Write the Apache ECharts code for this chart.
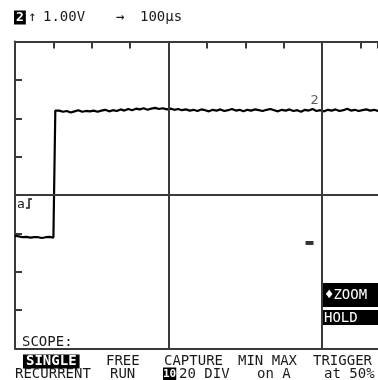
<!DOCTYPE html>
<html>
<head>
<meta charset="utf-8">
<script src="https://cdn.jsdelivr.net/npm/echarts@6/dist/echarts.min.js"></script>
<style>
  html, body { margin: 0; padding: 0; background: #fff; }
  #scope { width: 378px; height: 380px; }
</style>
</head>
<body>
<div id="scope"></div>
<script>
// screen: divisions of 1.00 V and 100 us; the right part of the 10th division is cut off
var sampleStep = 0.1;
var traceValues = [
  -1.06, -1.08, -1.10, -1.09, -1.11, -1.10, -1.10, -1.12, -1.10, -1.09, -1.11,
  2.20, 2.17, 2.19, 2.15, 2.18, 2.21, 2.17, 2.19, 2.18, 2.20,
  2.17, 2.20, 2.22, 2.18, 2.21, 2.19, 2.23, 2.20, 2.24, 2.21,
  2.25, 2.23, 2.26, 2.22, 2.25, 2.27, 2.24, 2.26, 2.23, 2.25,
  2.22, 2.24, 2.21, 2.23, 2.20, 2.22, 2.19, 2.23, 2.21, 2.18,
  2.22, 2.20, 2.23, 2.19, 2.21, 2.24, 2.20, 2.22, 2.18, 2.22,
  2.20, 2.23, 2.21, 2.19, 2.22, 2.24, 2.21, 2.18, 2.22, 2.20,
  2.23, 2.19, 2.21, 2.17, 2.22, 2.20, 2.24, 2.19, 2.21, 2.18,
  2.22, 2.20, 2.23, 2.19, 2.21, 2.25, 2.20, 2.22, 2.19, 2.21,
  2.23, 2.20, 2.22, 2.19, 2.24, 2.21, 2.20, 2.23, 2.21, 2.22
];
var cursorDivs = [4, 8];
var levelMarker = [7.67, -1.25];
var channelLabel = [7.8, 2.45];
var visibleDivs = 9.453;

var ink = '#1a1a1a';
var frame = '#3a3a3a';
var mono = '14px "DejaVu Sans Mono", "Liberation Mono", monospace';

function txt(x, y, s, inverted, font, pad) {
  return {
    type: 'text', x: x, y: y, z: 100,
    style: {
      text: s, font: font || mono, fill: inverted ? '#fff' : ink,
      backgroundColor: inverted ? '#000' : null,
      padding: inverted ? (pad || [0, 1, 0, 1]) : 0,
      textVerticalAlign: 'middle', verticalAlign: 'middle'
    }
  };
}

var tickStyle = { show: true, inside: true, length: 7, lineStyle: { color: frame, width: 2 } };
var edge = { show: true, onZero: false, lineStyle: { color: frame, width: 2 } };

var myChart = echarts.init(document.getElementById('scope'));
var option = {
  animation: false,
  grid: { left: 15, top: 41.5, width: 363, height: 307 },
  xAxis: [
    {
      type: 'value', min: 0, max: visibleDivs, interval: 1, position: 'top',
      axisLine: edge, axisTick: tickStyle,
      axisLabel: { show: false }, splitLine: { show: false }
    },
    {
      type: 'value', min: 0, max: visibleDivs, interval: 1, position: 'bottom',
      axisLine: edge, axisTick: { show: false },
      axisLabel: { show: false }, splitLine: { show: false }
    }
  ],
  yAxis: {
    type: 'value', min: -4, max: 4, interval: 1,
    axisLine: edge, axisTick: tickStyle,
    axisLabel: { show: false }, splitLine: { show: false }
  },
  series: [
    {
      type: 'line', step: 'middle', symbol: 'none', clip: true,
      data: traceValues.map(function (v, i) { return [i * sampleStep, v]; }),
      lineStyle: { color: '#000', width: 2.2 },
      markLine: {
        silent: true, symbol: 'none', label: { show: false },
        lineStyle: { color: frame, width: 2, type: 'solid' },
        data: cursorDivs.map(function (d) { return { xAxis: d }; }).concat([{ yAxis: 0 }])
      }
    },
    {
      type: 'scatter', symbol: 'rect', symbolSize: [8, 4],
      itemStyle: { color: '#000' },
      data: [levelMarker]
    },
    {
      type: 'scatter', symbolSize: 0,
      label: { show: true, formatter: '2', position: 'inside', color: '#333', fontSize: 13, fontFamily: 'DejaVu Sans' },
      data: [channelLabel]
    }
  ],
  graphic: [
    txt(14, 17.5, '2', true, 'bold 13px "DejaVu Sans Mono", monospace', [1, 2, 0, 2]),
    txt(28, 17.5, '\u2191', false),
    txt(43, 17.5, '1.00V', false),
    txt(116, 17.5, '\u2192', false),
    txt(140, 17.5, '100\u00b5s', false),
    txt(17, 205, 'a', false, '13px "DejaVu Sans Mono", monospace'),
    { type: 'polyline', z: 100, shape: { points: [[32, 199], [29, 199], [29, 208], [26, 208]] }, style: { stroke: ink, lineWidth: 1.5, fill: null } },
    { type: 'rect', z: 90, shape: { x: 323, y: 283, width: 60, height: 24 }, style: { fill: '#000' } },
    { type: 'rect', z: 90, shape: { x: 323, y: 310, width: 60, height: 15 }, style: { fill: '#000' } },
    { type: 'text', x: 325, y: 295, z: 100, style: { text: '\u2666ZOOM', font: mono, fill: '#fff', textVerticalAlign: 'middle', verticalAlign: 'middle' } },
    { type: 'text', x: 324, y: 318, z: 100, style: { text: 'HOLD', font: mono, fill: '#fff', textVerticalAlign: 'middle', verticalAlign: 'middle' } },
    txt(22, 342, 'SCOPE:', false),
    txt(23, 361.5, 'SINGLE', true, 'bold 14px "DejaVu Sans Mono", monospace', [0, 3, 0, 3]),
    txt(106, 361.5, 'FREE', false),
    txt(164, 361.5, 'CAPTURE', false),
    txt(238, 361.5, 'MIN MAX', false),
    txt(313, 361.5, 'TRIGGER', false),
    txt(15, 374, 'RECURRENT', false),
    txt(110, 374, 'RUN', false),
    txt(163, 374, '10', true, 'bold 11px "DejaVu Sans Mono", monospace', [1, 0, 1, 0]),
    txt(179, 374, '20 DIV', false),
    txt(257, 374, 'on A', false),
    txt(324, 374, 'at 50%', false)
  ]
};
myChart.setOption(option);
window.onresize = function () { myChart.resize(); };
</script>
</body>
</html>
